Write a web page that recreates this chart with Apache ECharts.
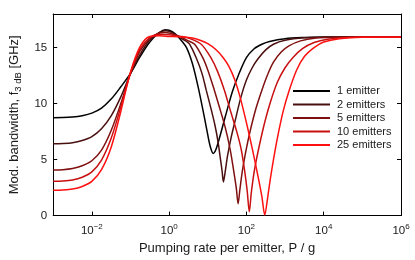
<!DOCTYPE html>
<html>
<head>
<meta charset="utf-8">
<script src="https://cdn.jsdelivr.net/npm/echarts@6/dist/echarts.min.js"></script>
<style>
html,body{margin:0;padding:0;background:#fff;}
#chart{width:415px;height:260px;}
</style>
</head>
<body>
<div id="chart"></div>
<script>
// x values are log10 of the pumping rate P/g
const xTickExponents = [-2, 0, 2, 4, 6];
const yTicks = [0, 5, 10, 15];
const seriesNames = ['1 emitter', '2 emitters', '5 emitters', '10 emitters', '25 emitters'];
const seriesColors = ['#000000', '#4a1010', '#801010', '#c81010', '#ff1010'];

// [log10(P/g), bandwidth GHz]
const emitter1 = [[-3,8.74],[-2.75,8.75],[-2.5,8.8],[-2.25,8.92],[-2,9.15],[-1.75,9.6],[-1.5,10.4],[-1.25,11.5],[-1,12.7],[-0.75,14.2],[-0.5,15.5],[-0.25,16.35],[-0.1,16.6],[0,16.55],[0.15,16.25],[0.3,15.7],[0.45,15.0],[0.6,13.6],[0.75,11.5],[0.9,9.0],[1.0,7.2],[1.07,6.1],[1.14,5.55],[1.21,5.9],[1.3,6.9],[1.45,8.8],[1.64,11.1],[1.8,12.6],[2.0,14.1],[2.2,14.9],[2.4,15.3],[2.6,15.55],[3.0,15.8],[3.5,15.9],[4,15.94],[5,15.95],[6,15.95]];
const emitter2 = [[-3,6.41],[-2.75,6.43],[-2.5,6.5],[-2.25,6.7],[-2,7.05],[-1.75,7.75],[-1.5,8.9],[-1.25,10.6],[-1,12.65],[-0.75,14.4],[-0.5,15.7],[-0.25,16.35],[-0.1,16.5],[0,16.45],[0.15,16.2],[0.3,15.85],[0.45,15.55],[0.53,15.3],[0.7,14.1],[0.85,12.7],[0.96,11.2],[1.08,9.6],[1.19,8.0],[1.27,6.5],[1.33,5.0],[1.37,4.0],[1.405,3.0],[1.45,3.9],[1.51,5.3],[1.6,6.9],[1.71,8.5],[1.86,10.6],[2.0,12.1],[2.15,13.2],[2.3,14.0],[2.5,14.8],[2.7,15.3],[3.0,15.65],[3.5,15.87],[4,15.93],[5,15.95],[6,15.95]];
const emitter5 = [[-3,4.08],[-2.75,4.1],[-2.5,4.2],[-2.25,4.45],[-2,4.9],[-1.75,5.85],[-1.5,7.6],[-1.25,10.0],[-1,12.7],[-0.75,14.7],[-0.5,15.8],[-0.25,16.3],[-0.1,16.35],[0,16.3],[0.15,16.15],[0.3,15.95],[0.5,15.6],[0.66,15.3],[0.87,14.1],[1.0,13.0],[1.17,11.2],[1.3,9.7],[1.45,7.9],[1.58,5.9],[1.68,3.8],[1.74,2.4],[1.785,1.05],[1.83,2.3],[1.9,4.1],[2.0,6.0],[2.1,7.6],[2.25,9.6],[2.4,11.2],[2.55,12.6],[2.7,13.7],[2.9,14.6],[3.1,15.15],[3.4,15.6],[3.8,15.85],[4.3,15.93],[5,15.95],[6,15.95]];
const emitter10 = [[-3,3.06],[-2.75,3.08],[-2.5,3.17],[-2.25,3.42],[-2,3.9],[-1.75,4.95],[-1.5,6.9],[-1.25,9.7],[-1,12.75],[-0.75,14.9],[-0.5,15.9],[-0.25,16.2],[0,16.15],[0.3,16.0],[0.5,15.85],[0.83,15.3],[1.08,14.1],[1.25,12.9],[1.43,11.2],[1.6,9.2],[1.75,7.5],[1.86,6.0],[1.95,4.1],[2.02,2.2],[2.075,0.35],[2.125,2.0],[2.2,3.9],[2.3,5.7],[2.45,8.0],[2.6,9.9],[2.8,11.9],[3.0,13.2],[3.2,14.1],[3.45,14.9],[3.75,15.45],[4.1,15.75],[4.6,15.9],[5.2,15.94],[6,15.95]];
const emitter25 = [[-3,2.27],[-2.75,2.29],[-2.5,2.37],[-2.25,2.6],[-2,3.05],[-1.75,4.1],[-1.5,6.1],[-1.25,9.3],[-1,12.8],[-0.75,15.1],[-0.5,16.0],[-0.25,16.05],[0,16.0],[0.3,15.95],[0.6,15.85],[0.8,15.65],[1.0,15.35],[1.2,14.85],[1.4,14.1],[1.55,13.3],[1.7,12.1],[1.85,10.4],[2.0,8.3],[2.15,6.0],[2.3,3.5],[2.4,1.7],[2.475,0.05],[2.545,1.5],[2.62,3.3],[2.7,5.0],[2.8,6.9],[2.95,9.3],[3.1,11.1],[3.3,13.0],[3.5,14.2],[3.75,15.0],[4.0,15.5],[4.4,15.8],[5,15.93],[6,15.95]];

const seriesData = [emitter1, emitter2, emitter5, emitter10, emitter25];
const FONT = 'Liberation Sans, Arial, Helvetica, sans-serif';
const TXT = '#1a1a1a';

const chart = echarts.init(document.getElementById('chart'), null, {renderer: 'canvas'});

const boxAxisLine = {show: true, onZero: false, lineStyle: {color: '#000', width: 1}};

const option = {
  animation: false,
  backgroundColor: '#fff',
  textStyle: {fontFamily: FONT},
  grid: {left: 49, right: 14, top: 14, bottom: 40},
  legend: {
    orient: 'vertical',
    left: 293,
    top: 85,
    padding: 0,
    itemWidth: 37,
    itemHeight: 2,
    itemGap: 1.5,
    icon: 'rect',
    data: seriesNames,
    textStyle: {fontFamily: FONT, fontSize: 11, color: TXT, lineHeight: 12, padding: [0, 0, 0, 2]}
  },
  xAxis: [
    {
      type: 'value', min: -3, max: 6, position: 'bottom',
      axisLine: boxAxisLine,
      axisTick: {show: true, inside: true, length: 4, customValues: xTickExponents, lineStyle: {color: '#000'}},
      splitLine: {show: false},
      axisLabel: {
        customValues: xTickExponents,
        margin: 7,
        color: TXT,
        formatter: function (v) {
          const s = v < 0 ? '\u2212' + Math.abs(v) : String(v);
          return '{b|10}{s|' + s + '}';
        },
        rich: {
          b: {fontSize: 11.5, fontFamily: FONT, color: TXT},
          s: {fontSize: 8, fontFamily: FONT, color: TXT, padding: [0, 0, 9, 0]}
        }
      },
      name: 'Pumping rate per emitter, P / g',
      nameLocation: 'middle',
      nameGap: 23,
      nameTextStyle: {fontSize: 13, color: TXT, fontFamily: FONT}
    },
    {
      type: 'value', min: -3, max: 6, position: 'top',
      axisLine: boxAxisLine,
      axisTick: {show: true, inside: true, length: 4, customValues: xTickExponents, lineStyle: {color: '#000'}},
      axisLabel: {show: false},
      splitLine: {show: false}
    }
  ],
  yAxis: [
    {
      type: 'value', min: 0, max: 18, position: 'left',
      axisLine: boxAxisLine,
      axisTick: {show: true, inside: true, length: 4, customValues: yTicks, lineStyle: {color: '#000'}},
      splitLine: {show: false},
      axisLabel: {customValues: yTicks, margin: 6, fontSize: 11.5, color: TXT, fontFamily: FONT},
      name: '{a|Mod. bandwidth, f}{sub|3 dB}{a| [GHz]}',
      nameLocation: 'middle',
      nameRotate: 90,
      nameGap: 28,
      nameTextStyle: {
        color: TXT,
        rich: {
          a: {fontSize: 13, fontFamily: FONT, color: TXT},
          sub: {fontSize: 9.5, fontFamily: FONT, color: TXT, padding: [8, 0, 0, 0]}
        }
      }
    },
    {
      type: 'value', min: 0, max: 18, position: 'right',
      axisLine: boxAxisLine,
      axisTick: {show: true, inside: true, length: 4, customValues: yTicks, lineStyle: {color: '#000'}},
      axisLabel: {show: false},
      splitLine: {show: false}
    }
  ],
  series: seriesNames.map(function (name, i) {
    return {
      name: name,
      type: 'line',
      xAxisIndex: 0,
      yAxisIndex: 0,
      data: seriesData[i],
      showSymbol: false,
      smooth: 0.3,
      color: seriesColors[i],
      lineStyle: {width: 1.5, color: seriesColors[i]},
      clip: true
    };
  })
};

chart.setOption(option);
</script>
</body>
</html>
